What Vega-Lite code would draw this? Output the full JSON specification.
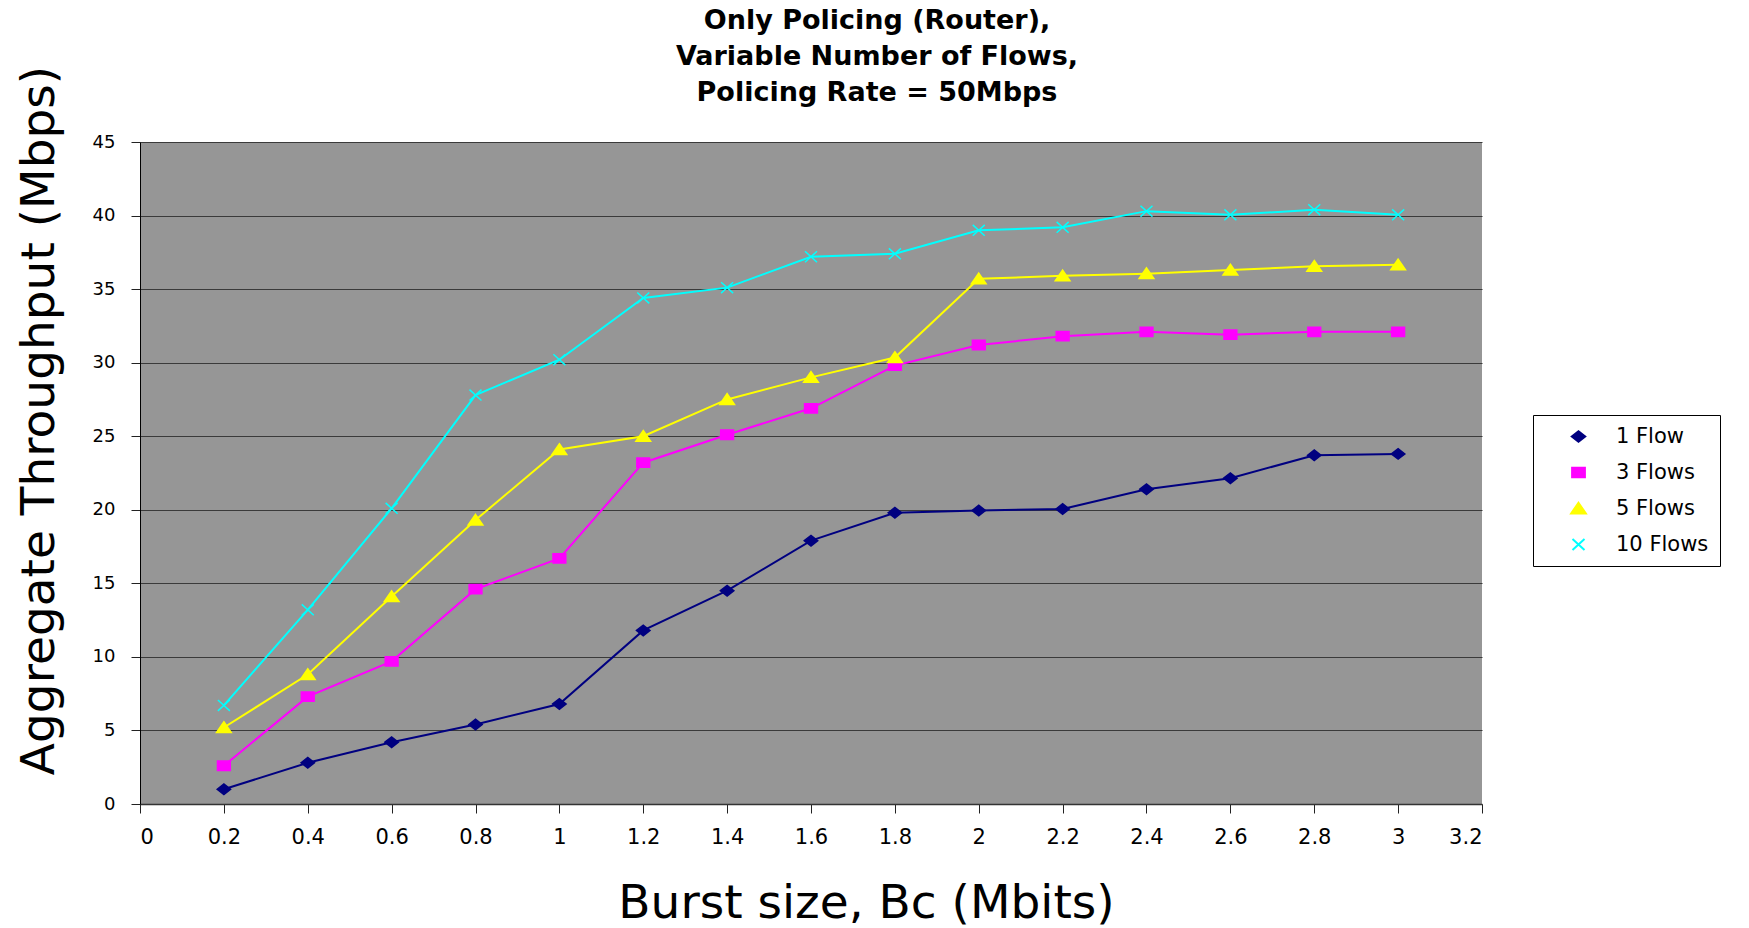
{
  "$schema": "https://vega.github.io/schema/vega-lite/v6.json",
  "autosize": "none",
  "width": 1342,
  "height": 662,
  "padding": {"left": 140, "top": 142, "right": 267, "bottom": 124},
  "background": "white",
  "title": {
    "text": ["Only Policing (Router),", "Variable Number of Flows,", "Policing Rate = 50Mbps"],
    "font": "DejaVu Sans",
    "fontWeight": "bold",
    "fontSize": 27,
    "lineHeight": 36,
    "color": "black",
    "anchor": "middle",
    "frame": "group",
    "baseline": "top",
    "dx": 66,
    "dy": 42,
    "offset": 0
  },
  "config": {
    "view": {"fill": "#969696", "stroke": null},
    "axis": {"labelColor": "black", "titleColor": "black", "labelFont": "DejaVu Sans", "titleFont": "DejaVu Sans", "titleFontWeight": "normal"}
  },
  "data": {
    "values": [
      {"bc": 0.2, "series": "1 Flow", "mbps": 1.0},
      {"bc": 0.4, "series": "1 Flow", "mbps": 2.8},
      {"bc": 0.6, "series": "1 Flow", "mbps": 4.2},
      {"bc": 0.8, "series": "1 Flow", "mbps": 5.4},
      {"bc": 1.0, "series": "1 Flow", "mbps": 6.8},
      {"bc": 1.2, "series": "1 Flow", "mbps": 11.8},
      {"bc": 1.4, "series": "1 Flow", "mbps": 14.5},
      {"bc": 1.6, "series": "1 Flow", "mbps": 17.9},
      {"bc": 1.8, "series": "1 Flow", "mbps": 19.8},
      {"bc": 2.0, "series": "1 Flow", "mbps": 19.95},
      {"bc": 2.2, "series": "1 Flow", "mbps": 20.05},
      {"bc": 2.4, "series": "1 Flow", "mbps": 21.4},
      {"bc": 2.6, "series": "1 Flow", "mbps": 22.15},
      {"bc": 2.8, "series": "1 Flow", "mbps": 23.7},
      {"bc": 3.0, "series": "1 Flow", "mbps": 23.8},
      {"bc": 0.2, "series": "3 Flows", "mbps": 2.6},
      {"bc": 0.4, "series": "3 Flows", "mbps": 7.3},
      {"bc": 0.6, "series": "3 Flows", "mbps": 9.7},
      {"bc": 0.8, "series": "3 Flows", "mbps": 14.6},
      {"bc": 1.0, "series": "3 Flows", "mbps": 16.7},
      {"bc": 1.2, "series": "3 Flows", "mbps": 23.2},
      {"bc": 1.4, "series": "3 Flows", "mbps": 25.1},
      {"bc": 1.6, "series": "3 Flows", "mbps": 26.9},
      {"bc": 1.8, "series": "3 Flows", "mbps": 29.8},
      {"bc": 2.0, "series": "3 Flows", "mbps": 31.2},
      {"bc": 2.2, "series": "3 Flows", "mbps": 31.8},
      {"bc": 2.4, "series": "3 Flows", "mbps": 32.1},
      {"bc": 2.6, "series": "3 Flows", "mbps": 31.9},
      {"bc": 2.8, "series": "3 Flows", "mbps": 32.1},
      {"bc": 3.0, "series": "3 Flows", "mbps": 32.1},
      {"bc": 0.2, "series": "5 Flows", "mbps": 5.2},
      {"bc": 0.4, "series": "5 Flows", "mbps": 8.8},
      {"bc": 0.6, "series": "5 Flows", "mbps": 14.1},
      {"bc": 0.8, "series": "5 Flows", "mbps": 19.3},
      {"bc": 1.0, "series": "5 Flows", "mbps": 24.1},
      {"bc": 1.2, "series": "5 Flows", "mbps": 25.0},
      {"bc": 1.4, "series": "5 Flows", "mbps": 27.5},
      {"bc": 1.6, "series": "5 Flows", "mbps": 29.0},
      {"bc": 1.8, "series": "5 Flows", "mbps": 30.35},
      {"bc": 2.0, "series": "5 Flows", "mbps": 35.7},
      {"bc": 2.2, "series": "5 Flows", "mbps": 35.9},
      {"bc": 2.4, "series": "5 Flows", "mbps": 36.05},
      {"bc": 2.6, "series": "5 Flows", "mbps": 36.3},
      {"bc": 2.8, "series": "5 Flows", "mbps": 36.55},
      {"bc": 3.0, "series": "5 Flows", "mbps": 36.65},
      {"bc": 0.2, "series": "10 Flows", "mbps": 6.7},
      {"bc": 0.4, "series": "10 Flows", "mbps": 13.2},
      {"bc": 0.6, "series": "10 Flows", "mbps": 20.1},
      {"bc": 0.8, "series": "10 Flows", "mbps": 27.8},
      {"bc": 1.0, "series": "10 Flows", "mbps": 30.2},
      {"bc": 1.2, "series": "10 Flows", "mbps": 34.4},
      {"bc": 1.4, "series": "10 Flows", "mbps": 35.1},
      {"bc": 1.6, "series": "10 Flows", "mbps": 37.2},
      {"bc": 1.8, "series": "10 Flows", "mbps": 37.4},
      {"bc": 2.0, "series": "10 Flows", "mbps": 39.0},
      {"bc": 2.2, "series": "10 Flows", "mbps": 39.2},
      {"bc": 2.4, "series": "10 Flows", "mbps": 40.3},
      {"bc": 2.6, "series": "10 Flows", "mbps": 40.05},
      {"bc": 2.8, "series": "10 Flows", "mbps": 40.4},
      {"bc": 3.0, "series": "10 Flows", "mbps": 40.05}
    ]
  },
  "encoding": {
    "x": {
      "field": "bc",
      "type": "quantitative",
      "scale": {"domain": [0, 3.2], "nice": false, "zero": true},
      "axis": {
        "title": "Burst size, Bc (Mbits)",
        "titleFontSize": 47,
        "titleX": 726,
        "titleY": 113,
        "titleAlign": "center",
        "titleBaseline": "alphabetic",
        "values": [0, 0.2, 0.4, 0.6, 0.8, 1, 1.2, 1.4, 1.6, 1.8, 2, 2.2, 2.4, 2.6, 2.8, 3, 3.2],
        "format": ".2~f",
        "labelFontSize": 21,
        "labelPadding": 13,
        "tickSize": 9,
        "tickColor": "#222222",
        "domainColor": "#333333",
        "domainWidth": 1.5,
        "grid": false
      }
    },
    "y": {
      "field": "mbps",
      "type": "quantitative",
      "scale": {"domain": [0, 45], "nice": false},
      "axis": {
        "title": "Aggregate Throughput (Mbps)",
        "titleFontSize": 47,
        "titleAngle": 270,
        "titleX": -87,
        "titleY": 278,
        "titleAlign": "center",
        "titleBaseline": "alphabetic",
        "values": [0, 5, 10, 15, 20, 25, 30, 35, 40, 45],
        "labelFontSize": 18,
        "labelPadding": 16,
        "tickSize": 9,
        "tickColor": "#222222",
        "domainColor": "black",
        "domainWidth": 1,
        "grid": true,
        "gridColor": "#3a3a3a",
        "gridWidth": 1.2
      }
    }
  },
  "layer": [
    {
      "mark": {"type": "line", "strokeWidth": 2},
      "encoding": {
        "color": {
          "field": "series",
          "type": "nominal",
          "scale": {"domain": ["1 Flow", "3 Flows", "5 Flows", "10 Flows"], "range": ["#000080", "#FF00FF", "#FFFF00", "#00FFFF"]},
          "legend": {
            "title": null,
            "orient": "none",
            "legendX": 1393,
            "legendY": 273,
            "direction": "vertical",
            "fillColor": "white",
            "strokeColor": "black",
            "padding": 11,
            "symbolSize": 256,
            "symbolStrokeWidth": 2,
            "symbolOffset": 24,
            "labelOffset": 27,
            "labelFont": "DejaVu Sans",
            "labelFontSize": 21,
            "labelColor": "black",
            "rowPadding": 14,
            "encode": {
              "symbols": {
                "update": {
                  "shape": {"value": {"expr": "datum.value === '1 Flow' ? 'M-4.06,0L4.06,0M-0.84,0L0,-0.66L0.84,0L0,0.66Z' : datum.value === '3 Flows' ? 'M-4.06,0L4.06,0M-0.8,-0.58L0.8,-0.58L0.8,0.58L-0.8,0.58Z' : datum.value === '5 Flows' ? 'M-4.06,0L4.06,0M0,-0.72L0.92,0.62L-0.92,0.62Z' : 'M-4.06,0L4.06,0M-0.75,-0.68L0.75,0.68M-0.75,0.68L0.75,-0.68'"}},
                  "fill": {"value": {"expr": "datum.value === '1 Flow' ? '#000080' : datum.value === '3 Flows' ? '#FF00FF' : datum.value === '5 Flows' ? '#FFFF00' : '#00FFFF'"}},
                  "stroke": {"value": {"expr": "datum.value === '1 Flow' ? '#000080' : datum.value === '3 Flows' ? '#FF00FF' : datum.value === '5 Flows' ? '#FFFF00' : '#00FFFF'"}},
                  "strokeWidth": {"value": 2},
                  "size": {"value": 256},
                  "opacity": {"value": 1}
                }
              }
            }
          }
        }
      }
    },
    {
      "transform": [{"calculate": "datum.series", "as": "marker"}],
      "mark": {"type": "point", "filled": true, "size": 256, "strokeWidth": 1.5, "opacity": 1},
      "encoding": {
        "color": {"field": "series", "type": "nominal", "legend": null},
        "stroke": {
          "field": "marker",
          "type": "nominal",
          "scale": {"domain": ["1 Flow", "3 Flows", "5 Flows", "10 Flows"], "range": ["#000080", "#FF00FF", "#FFFF00", "#00FFFF"]},
          "legend": null
        },
        "shape": {
          "field": "marker",
          "type": "nominal",
          "scale": {
            "domain": ["1 Flow", "3 Flows", "5 Flows", "10 Flows"],
            "range": [
              "M-0.84,0L0,-0.66L0.84,0L0,0.66Z",
              "M-0.8,-0.58L0.8,-0.58L0.8,0.58L-0.8,0.58Z",
              "M0,-0.72L0.92,0.62L-0.92,0.62Z",
              "M-0.75,-0.68L0.75,0.68M-0.75,0.68L0.75,-0.68"
            ]
          },
          "legend": null
        }
      }
    }
  ]
}
